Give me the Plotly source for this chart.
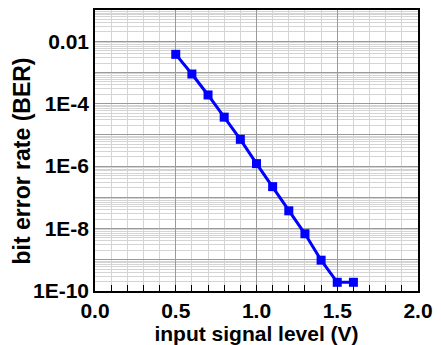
import plotly.graph_objects as go

# Data
input_level_v = [0.5, 0.6, 0.7, 0.8, 0.9, 1.0, 1.1, 1.2, 1.3, 1.4, 1.5, 1.6]
ber = [3.8e-3, 8.9e-4, 1.9e-4, 3.7e-5, 7.2e-6, 1.2e-6, 2.2e-7, 3.7e-8, 6.8e-9, 9.7e-10, 1.9e-10, 1.9e-10]

y_tickvals = [1e-10, 1e-9, 1e-8, 1e-7, 1e-6, 1e-5, 1e-4, 1e-3, 1e-2, 1e-1]
y_ticktext = ["1E-10", "", "1E-8", "", "1E-6", "", "1E-4", "", "0.01", ""]
x_tickvals = [0.0, 0.5, 1.0, 1.5, 2.0]
x_ticktext = ["0.0", "0.5", "1.0", "1.5", "2.0"]
x_title = "input signal level (V)"
y_title = "bit error rate (BER)"

FONT = "Liberation Sans"


def bold(s):
    return f"<b>{s}</b>" if s else ""


fig = go.Figure()
fig.add_trace(go.Scatter(
    x=input_level_v, y=ber, mode="lines+markers",
    line=dict(color="#0000FF", width=3),
    marker=dict(symbol="square", size=9, color="#0000FF"),
    showlegend=False,
))

fig.update_layout(
    width=441, height=345,
    margin=dict(l=95, r=16, t=8, b=54),
    paper_bgcolor="white", plot_bgcolor="white",
    font=dict(family=FONT, color="black"),
)

fig.update_xaxes(
    range=[0, 2.0],
    tickvals=x_tickvals, ticktext=[bold(t) for t in x_ticktext],
    ticks="inside", ticklen=6, tickcolor="black", tickwidth=1,
    showgrid=True, gridcolor="#9a9a9a", gridwidth=1,
    minor=dict(dtick=0.1, ticks="inside", ticklen=6, tickcolor="black",
               showgrid=True, gridcolor="#d4d4d4", gridwidth=1),
    showline=True, linecolor="black", linewidth=1.5, mirror=True,
    zeroline=False,
    tickfont=dict(family=FONT, size=21, color="black"),
    title=dict(text=bold(x_title), standoff=0,
               font=dict(family=FONT, size=21, color="black")),
)

fig.update_yaxes(
    type="log", range=[-10, -1],
    tickvals=y_tickvals, ticktext=[bold(t) for t in y_ticktext],
    ticks="", showgrid=True, gridcolor="#9a9a9a", gridwidth=1,
    minor=dict(dtick="D1", showgrid=True, gridcolor="#d4d4d4", gridwidth=1),
    showline=True, linecolor="black", linewidth=1.5, mirror=True,
    zeroline=False,
    tickfont=dict(family=FONT, size=21, color="black"),
)

fig.add_annotation(
    text=bold(y_title), textangle=-90, showarrow=False,
    xref="paper", yref="paper", x=(20 - 95) / 330, y=(291 - 160) / 283,
    xanchor="center", yanchor="middle",
    font=dict(family=FONT, size=23, color="black"),
)

fig.write_html("out.html")
